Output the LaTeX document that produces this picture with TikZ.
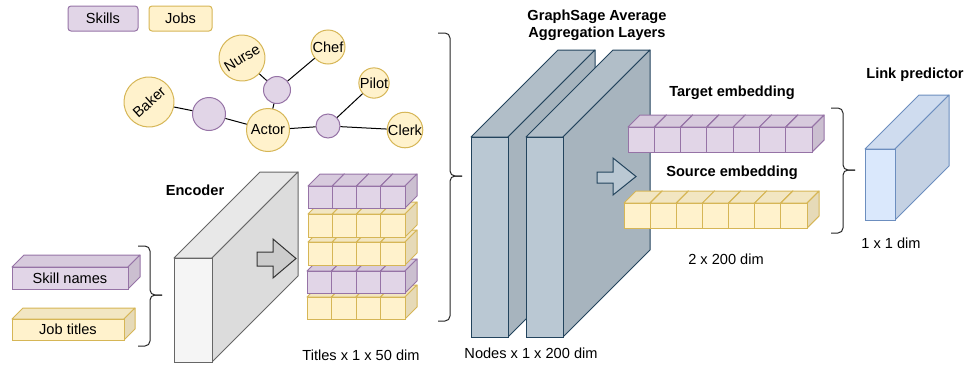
\documentclass[tikz,border=0pt]{standalone}
\usepackage{fontspec}
\setmainfont{Liberation Sans}

% face colours: front, top, side, outline
\definecolor{cPfront}{HTML}{E1D5E7}\definecolor{cPtop}{HTML}{D7CADD}\definecolor{cPside}{HTML}{CBBFD0}\definecolor{cPline}{HTML}{9673A6}
\definecolor{cYfront}{HTML}{FFF2CC}\definecolor{cYtop}{HTML}{F2E6C2}\definecolor{cYside}{HTML}{E6DAB8}\definecolor{cYline}{HTML}{D6B656}
\definecolor{cGfront}{HTML}{F5F5F5}\definecolor{cGtop}{HTML}{E8E8E8}\definecolor{cGside}{HTML}{DCDCDC}\definecolor{cGline}{HTML}{666666}
\definecolor{cSfront}{HTML}{BAC8D3}\definecolor{cStop}{HTML}{B1BEC8}\definecolor{cSside}{HTML}{A7B4BE}\definecolor{cSline}{HTML}{23445D}
\definecolor{cBfront}{HTML}{DAE8FC}\definecolor{cBtop}{HTML}{CFDCEF}\definecolor{cBside}{HTML}{C4D1E3}\definecolor{cBline}{HTML}{6C8EBF}
\definecolor{cArrow}{HTML}{CCCCCC}

% a box seen from the front, with its top and right side receding by #5
% #1,#2 top-left of front face, #3 width, #4 height, #5 depth, #6 colour set
\newcommand\mkcube[6]{%
  \filldraw[draw=#6line,fill=#6top,line join=round] (#1,#2) -- ++(#5,-#5) -- ++(#3,0) -- ++(-#5,#5) -- cycle;
  \filldraw[draw=#6line,fill=#6side,line join=round] ({#1+#3},#2) -- ++(#5,-#5) -- ++(0,#4) -- ++(-#5,#5) -- cycle;
  \filldraw[draw=#6line,fill=#6front] (#1,#2) rectangle ++(#3,#4);}
% a row of such boxes; #6 is the index of the last cell
\newcommand\mkrow[7]{\foreach \k in {0,...,#6}{\mkcube{#1+\k*#3}{#2}{#3}{#4}{#5}{#7}}}

\tikzset{
  txt/.style={inner sep=0pt, font=\fontsize{14.6}{17}\selectfont},
  boldtxt/.style={inner sep=0pt, font=\fontsize{14.6}{17}\selectfont\bfseries},
  skillc/.style={circle, draw=cPline, fill=cPfront, inner sep=0pt},
  jobc/.style={circle, draw=cYline, fill=cYfront, inner sep=0pt, font=\fontsize{14.6}{17}\selectfont},
  legend/.style={draw, rounded corners=3pt, minimum height=25pt, inner sep=0pt, font=\fontsize{14.6}{17}\selectfont},
  edge/.style={draw=black},
  bracket/.style={draw=black!85, rounded corners=5pt},
  blockarrow/.style={line join=miter}
}

\begin{document}
\begin{tikzpicture}[x=1pt, y=-1pt, line width=1pt]
\useasboundingbox (0,0) rectangle (966,367);

% legend
\node[legend, draw=cPline, fill=cPfront, minimum width=70pt] (legS) at (103,18.5) {Skills};
\node[legend, draw=cYline, fill=cYfront, minimum width=63pt] (legJ) at (180.5,18.5) {Jobs};

% skills / jobs graph
\node[skillc, minimum size=33pt] (s1) at (209,114) {};
\node[skillc, minimum size=27pt] (s2) at (277,90) {};
\node[skillc, minimum size=24pt] (s3) at (328,126) {};
\node[jobc, minimum size=50pt, rotate=42] (baker) at (149,102) {Baker};
\node[jobc, minimum size=46pt, rotate=32] (nurse) at (242,58) {Nurse};
\node[jobc, minimum size=34pt] (chef) at (328,47) {Chef};
\node[jobc, minimum size=30pt] (pilot) at (374,83) {Pilot};
\node[jobc, minimum size=35pt] (clerk) at (405,130) {Clerk};
\node[jobc, minimum size=43pt] (actor) at (268,130) {Actor};
\draw[edge] (baker) -- (s1);
\draw[edge] (s1) -- (actor);
\draw[edge] (nurse) -- (s2);
\draw[edge] (s2) -- (chef);
\draw[edge] (s2) -- (actor);
\draw[edge] (actor) -- (s3);
\draw[edge] (s3) -- (pilot);
\draw[edge] (s3) -- (clerk);

% inputs
\mkcube{12}{267}{116}{22}{12}{cP}
\mkcube{12}{319}{112}{21}{11}{cY}
\node[txt] (sk) at (70,278) {Skill names};
\node[txt] (jt) at (68,329.5) {Job titles};
\draw[bracket] (138,246) -- (150,246) -- (150,295) -- (162,295);
\draw[bracket] (138,346) -- (150,346) -- (150,295) -- (162,295);

% encoder
\mkcube{174}{258}{38}{104}{86}{cG}
\filldraw[blockarrow, draw=black!80, fill=cArrow] (257,252) -- (273,252) -- (273,239) -- (296,258.5) -- (273,278) -- (273,266) -- (257,266) -- cycle;
\node[boldtxt] (enc) at (195,190) {Encoder};

% title embeddings, bottom row first
\mkrow{307}{297}{24.5}{22}{12}{3}{cY}
\mkrow{307}{271}{24.5}{22}{12}{3}{cP}
\mkrow{308}{242}{24.25}{23}{12}{3}{cY}
\mkrow{308}{214}{24.25}{23}{12}{3}{cY}
\mkrow{308}{186}{24.25}{22}{12}{3}{cP}
\node[txt] (tdim) at (361,355) {Titles x 1 x 50 dim};
\draw[bracket] (438,33) -- (450,33) -- (450,176) -- (462,176);
\draw[bracket] (438,321) -- (450,321) -- (450,176) -- (462,176);

% GraphSage layers
\mkcube{471}{137}{37}{200}{87}{cS}
\mkcube{526}{137}{37}{200}{87}{cS}
\filldraw[blockarrow, draw=cSline, fill=cSfront] (597,172) -- (613,172) -- (613,158) -- (636,176.5) -- (613,195) -- (613,183) -- (597,183) -- cycle;
\node[boldtxt, align=center] (gs) at (597,25) {GraphSage Average\\Aggregation Layers};
\node[txt] (ndim) at (531,353) {Nodes x 1 x 200 dim};

% node embeddings
\mkrow{628}{127}{26.3}{25}{12}{6}{cP}
\mkrow{624}{203}{26.15}{25}{12}{6}{cY}
\node[boldtxt] (tgt) at (732,93) {Target embedding};
\node[boldtxt] (src) at (732,173) {Source embedding};
\node[txt] (edim) at (726,259) {2 x 200 dim};
\draw[bracket] (831,108) -- (843,108) -- (843,170) -- (855,170);
\draw[bracket] (831,233) -- (843,233) -- (843,170) -- (855,170);

% link predictor
\mkcube{865}{149}{30}{71}{54}{cB}
\node[boldtxt] (lp) at (915,75) {Link predictor};
\node[txt] (ldim) at (891,243) {1 x 1 dim};
\end{tikzpicture}
\end{document}
